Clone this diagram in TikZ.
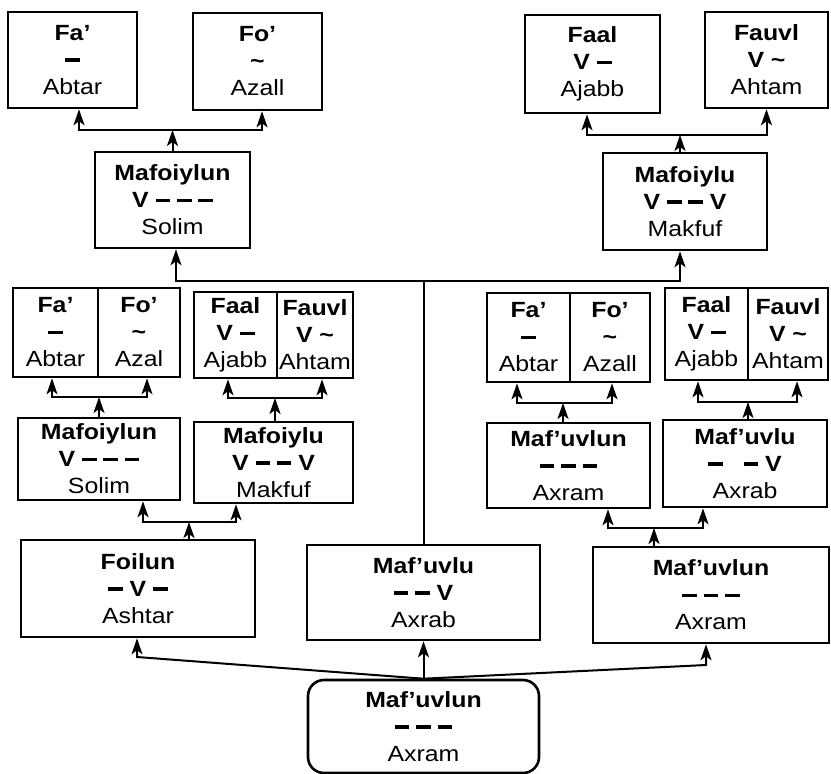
\documentclass[tikz,border=0pt]{standalone}
\usepackage{fontspec}
\setmainfont[FakeStretch=1.13]{Liberation Sans}
\usetikzlibrary{arrows.meta,calc}
\newcommand{\tritxt}[3]{\textbf{#1}\\\textbf{#2}\\#3}
\newcommand{\tl}{\textasciitilde}
\newcommand{\dsh}{\rule[0.26em]{0.66em}{0.15em}}
\begin{document}
\begin{tikzpicture}[x=1pt,y=-1pt,
  box/.style={draw, line width=2.6pt, inner sep=0pt, align=center, font=\fontsize{22}{27}\selectfont},
  arr/.style={line width=2pt, -{Stealth[length=16pt,width=11pt,inset=4pt]}},
  ln/.style={line width=2pt}]
\fill[white] (0,0) rectangle (831,774);
\useasboundingbox (0,0) rectangle (831,774);

% top row
\node[box,minimum width=129pt,minimum height=96pt] (T1) at (72.5,60) {\tritxt{Fa’}{\dsh}{Abtar}};
\node[box,minimum width=129pt,minimum height=97pt] (T2) at (257.5,61.5) {\tritxt{Fo’}{\tl}{Azall}};
\node[box,minimum width=135pt,minimum height=98pt] (T3) at (592.5,64) {\tritxt{Faal}{V \dsh}{Ajabb}};
\node[box,minimum width=123pt,minimum height=96pt] (T4) at (766.5,60) {\tritxt{Fauvl}{V \tl}{Ahtam}};

% second row
\node[box,minimum width=155pt,minimum height=96pt] (M1) at (172.5,200) {\tritxt{Mafoiylun}{V \dsh{} \dsh{} \dsh}{Solim}};
\node[box,minimum width=164pt,minimum height=97pt] (M2) at (685,201.5) {\tritxt{Mafoiylu}{V \dsh{} \dsh{} V}{Makfuf}};

% split boxes
\node[box,minimum width=85pt,minimum height=89pt] (S1a) at (55.5,332.5) {\tritxt{Fa’}{\dsh}{Abtar}};
\node[box,minimum width=82pt,minimum height=89pt] (S1b) at (139,332.5) {\tritxt{Fo’}{\tl}{Azal}};
\node[box,minimum width=83pt,minimum height=86pt] (S2a) at (235.5,335) {\tritxt{Faal}{V \dsh}{Ajabb}};
\node[box,minimum width=76pt,minimum height=86pt] (S2b) at (315,335) {\tritxt{Fauvl}{V \tl}{Ahtam}};
\node[box,minimum width=83pt,minimum height=89pt] (S3a) at (528.5,337.5) {\tritxt{Fa’}{\dsh}{Abtar}};
\node[box,minimum width=80pt,minimum height=89pt] (S3b) at (610,337.5) {\tritxt{Fo’}{\tl}{Azall}};
\node[box,minimum width=83pt,minimum height=92pt] (S4a) at (706.5,334) {\tritxt{Faal}{V \dsh}{Ajabb}};
\node[box,minimum width=80pt,minimum height=92pt] (S4b) at (788,334) {\tritxt{Fauvl}{V \tl}{Ahtam}};

% third row
\node[box,minimum width=162pt,minimum height=82pt] (L1) at (99,459) {\tritxt{Mafoiylun}{V \dsh{} \dsh{} \dsh}{Solim}};
\node[box,minimum width=159pt,minimum height=81pt] (L2) at (273.5,462.5) {\tritxt{Mafoiylu}{V \dsh{} \dsh{} V}{Makfuf}};
\node[box,minimum width=163pt,minimum height=85pt] (R1) at (568.5,465.5) {\tritxt{Maf’uvlun}{\dsh{} \dsh{} \dsh}{Axram}};
\node[box,minimum width=164pt,minimum height=87pt] (R2) at (745,463.5) {\tritxt{Maf’uvlu}{\dsh\ \ \ \dsh{} V}{Axrab}};

% fourth row
\node[box,minimum width=234pt,minimum height=97pt] (B1) at (138,588.5) {\tritxt{Foilun}{\dsh{} V \dsh}{Ashtar}};
\node[box,minimum width=233pt,minimum height=95pt] (B2) at (423.5,592.5) {\tritxt{Maf’uvlu}{\dsh{} \dsh{} V}{Axrab}};
\node[box,minimum width=236pt,minimum height=96pt] (B3) at (711,595) {\tritxt{Maf’uvlun}{\dsh{} \dsh{} \dsh}{Axram}};

% root
\node[box,rounded corners=16pt,minimum width=231pt,minimum height=93pt] (root) at (423.5,726.5) {\tritxt{Maf’uvlun}{\dsh{} \dsh{} \dsh}{Axram}};

% top left group
\coordinate (j1) at (M1.north |- 0,130);
\draw[arr] (M1.north) -- (j1);
\draw[arr] (j1) -| ([xshift=6.5pt]T1.south);
\draw[arr] (j1) -| ([xshift=4.5pt]T2.south);

% top right group
\path ([xshift=-5pt]M2.north) coordinate (m2t);
\coordinate (j2) at (m2t |- 0,135);
\draw[arr] (m2t) -- (j2);
\draw[arr] (j2) -| ([xshift=-5.5pt]T3.south);
\draw[arr] (j2) -| (T4.south);

% hub
\coordinate (hub) at (B2.north |- 0,281);
\draw[ln] (B2.north) -- (hub);
\draw[arr] (hub) -| ([xshift=3.5pt]M1.south);
\draw[arr] (hub) -| ([xshift=-5pt]M2.south);

% L1 group
\coordinate (k1) at (L1.north |- 0,397);
\draw[arr] (L1.north) -- (k1);
\draw[arr] (k1) -| ([xshift=-3.5pt]S1a.south);
\draw[arr] (k1) -| ([xshift=8pt]S1b.south);

% L2 group
\path ([xshift=1.5pt]L2.north) coordinate (l2t);
\coordinate (k2) at (l2t |- 0,398);
\draw[arr] (l2t) -- (k2);
\draw[arr] (k2) -| ([xshift=-7.5pt]S2a.south);
\draw[arr] (k2) -| ([xshift=7pt]S2b.south);

% R1 group
\path ([xshift=-5.5pt]R1.north) coordinate (r1t);
\coordinate (k3) at (r1t |- 0,403);
\draw[arr] (r1t) -- (k3);
\draw[arr] (k3) -| ([xshift=-11.5pt]S3a.south);
\draw[arr] (k3) -| ([xshift=2pt]S3b.south);

% R2 group
\path ([xshift=3pt]R2.north) coordinate (r2t);
\coordinate (k4) at (r2t |- 0,402);
\draw[arr] (r2t) -- (k4);
\draw[arr] (k4) -| ([xshift=-8.5pt]S4a.south);
\draw[arr] (k4) -| ([xshift=9pt]S4b.south);

% B1 group
\path ([xshift=51pt]B1.north) coordinate (b1t);
\coordinate (k5) at (b1t |- 0,522);
\draw[arr] (b1t) -- (k5);
\draw[arr] (k5) -| ([xshift=44pt]L1.south);
\draw[arr] (k5) -| ([xshift=-37.5pt]L2.south);

% B3 group
\path ([xshift=-57pt]B3.north) coordinate (b3t);
\coordinate (k6) at (b3t |- 0,528);
\draw[arr] (b3t) -- (k6);
\draw[arr] (k6) -| ([xshift=39.5pt]R1.south);
\draw[arr] (k6) -| ([xshift=-42pt]R2.south);

% root connectors
\path ([xshift=-1pt]B1.south) coordinate (b1s);
\coordinate (c1) at (b1s |- 0,657);
\draw[arr] (root.north) -- (c1) -- (b1s);
\draw[arr] (root.north) -- (B2.south);
\path ([xshift=-5pt]B3.south) coordinate (b3s);
\coordinate (c3) at (b3s |- 0,665);
\draw[arr] (root.north) -- (c3) -- (b3s);
\end{tikzpicture}
\end{document}
